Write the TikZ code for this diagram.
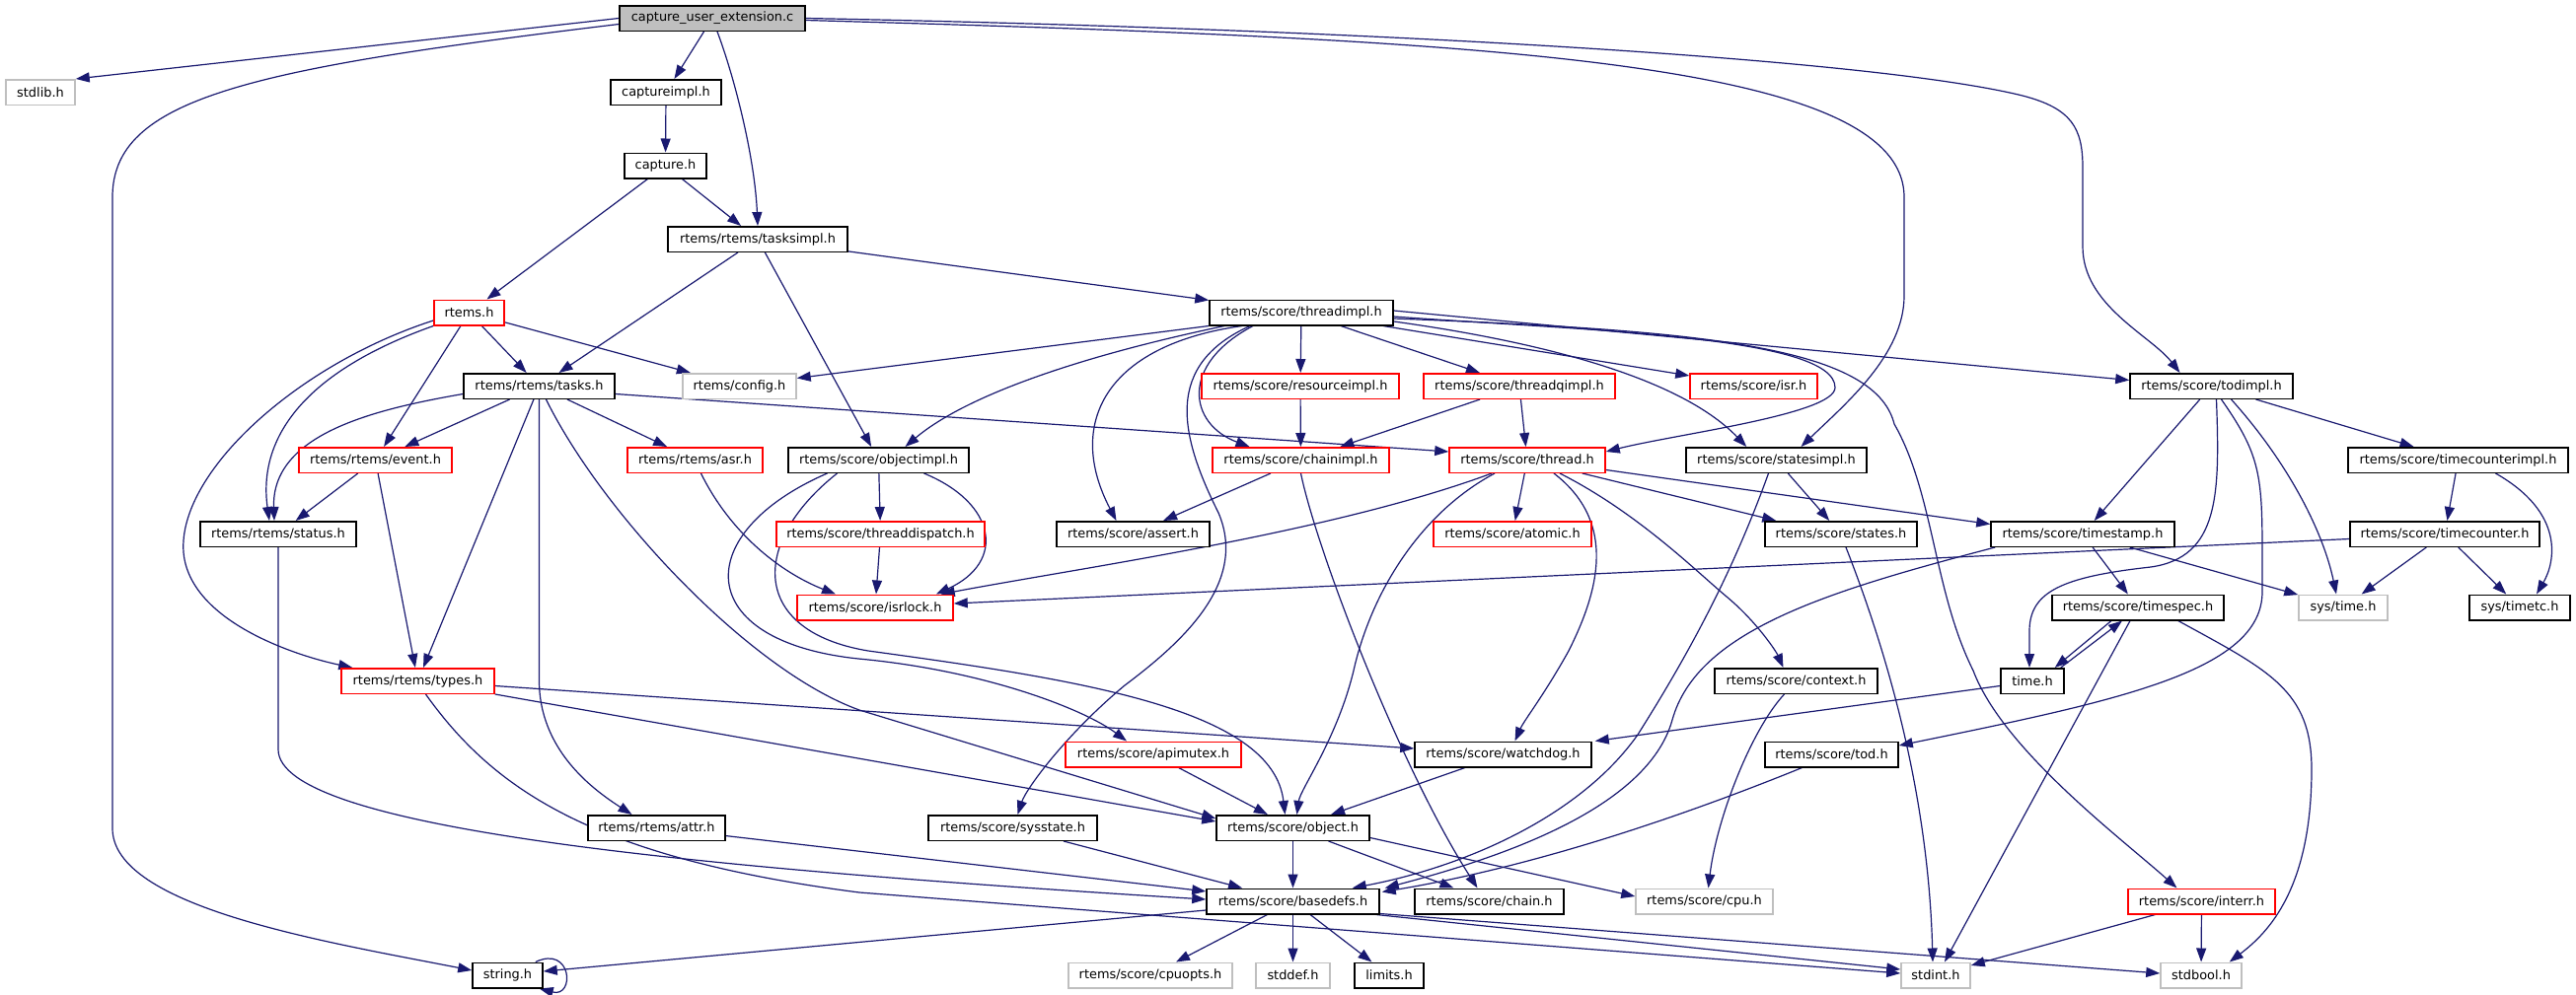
\documentclass[tikz,border=0pt]{standalone}
\usepackage{fontspec}
\setmainfont{DejaVu Sans}
\usetikzlibrary{arrows.meta,calc}
\definecolor{edgeblue}{HTML}{191970}
\definecolor{greyb}{HTML}{BFBFBF}
\definecolor{redb}{HTML}{FF0000}
\newcommand\nodefont{\fontsize{12.9}{14}\selectfont}
\pgfdeclarelayer{bg}
\pgfsetlayers{bg,main}
\tikzset{
  nb/.style={draw=black, fill=white, line width=1.5pt, minimum height=25.5pt, inner sep=0pt, font=\nodefont},
  nr/.style={nb, draw=redb},
  ng/.style={nb, draw=greyb},
  rootn/.style={nb, fill=greyb},
  dep/.style={draw=edgeblue, line width=1.2pt, -{Triangle[length=14pt,width=10pt]}}
}
\begin{document}
\begin{tikzpicture}[x=1pt,y=-1pt]
\begin{pgfonlayer}{bg}
\fill[white] (0,0) rectangle (2611,1009);
\end{pgfonlayer}
\useasboundingbox (0,0) rectangle (2611,1009);
% nodes
\node[rootn, minimum width=188pt] (cue) at (722,18.5) {capture\_user\_extension.c};
\node[ng, minimum width=70pt] (stdlib) at (41,93.5) {stdlib.h};
\node[nb, minimum width=112pt] (captureimpl) at (675,93.5) {captureimpl.h};
\node[nb, minimum width=83pt] (capture) at (674.5,168) {capture.h};
\node[nb, minimum width=182pt] (tasksimpl) at (768,242.5) {rtems/rtems/tasksimpl.h};
\node[nr, minimum width=71pt] (rtems) at (475.5,317) {rtems.h};
\node[nb, minimum width=186pt] (threadimpl) at (1319,317) {rtems/score/threadimpl.h};
\node[nb, minimum width=153pt] (tasks) at (546.5,391.5) {rtems/rtems/tasks.h};
\node[ng, minimum width=115pt] (config) at (749.5,391.5) {rtems/config.h};
\node[nr, minimum width=200pt] (resourceimpl) at (1318,391.5) {rtems/score/resourceimpl.h};
\node[nr, minimum width=194pt] (threadqimpl) at (1540,391.5) {rtems/score/threadqimpl.h};
\node[nr, minimum width=129pt] (isr) at (1777.5,391.5) {rtems/score/isr.h};
\node[nb, minimum width=165pt] (todimpl) at (2241.5,391.5) {rtems/score/todimpl.h};
\node[nr, minimum width=155pt] (event) at (380.5,466.5) {rtems/rtems/event.h};
\node[nr, minimum width=137pt] (asr) at (704.5,466.5) {rtems/rtems/asr.h};
\node[nb, minimum width=183pt] (objectimpl) at (890.5,466.5) {rtems/score/objectimpl.h};
\node[nr, minimum width=179pt] (chainimpl) at (1318.5,466.5) {rtems/score/chainimpl.h};
\node[nr, minimum width=158pt] (thread) at (1548,466.5) {rtems/score/thread.h};
\node[nb, minimum width=183pt] (statesimpl) at (1800.5,466.5) {rtems/score/statesimpl.h};
\node[nb, minimum width=223pt] (timecounterimpl) at (2491.5,466.5) {rtems/score/timecounterimpl.h};
\node[nb, minimum width=158pt] (status) at (282,541.5) {rtems/rtems/status.h};
\node[nr, minimum width=211pt] (threaddispatch) at (892.5,541.5) {rtems/score/threaddispatch.h};
\node[nb, minimum width=155pt] (assert) at (1148.5,541.5) {rtems/score/assert.h};
\node[nr, minimum width=160pt] (atomic) at (1533,541.5) {rtems/score/atomic.h};
\node[nb, minimum width=154pt] (states) at (1866,541.5) {rtems/score/states.h};
\node[nb, minimum width=186pt] (timestamp) at (2111,541.5) {rtems/score/timestamp.h};
\node[nb, minimum width=192pt] (timecounter) at (2478,541.5) {rtems/score/timecounter.h};
\node[nr, minimum width=158pt] (isrlock) at (887,616) {rtems/score/isrlock.h};
\node[nb, minimum width=174pt] (timespec) at (2167,616) {rtems/score/timespec.h};
\node[ng, minimum width=90pt] (systime) at (2375,616) {sys/time.h};
\node[nb, minimum width=102pt] (systimetc) at (2554,616) {sys/timetc.h};
\node[nr, minimum width=155pt] (types) at (423.5,690.5) {rtems/rtems/types.h};
\node[nb, minimum width=165pt] (context) at (1820.5,690.5) {rtems/score/context.h};
\node[nb, minimum width=64pt] (time) at (2060,690.5) {time.h};
\node[nr, minimum width=178pt] (apimutex) at (1169,765) {rtems/score/apimutex.h};
\node[nb, minimum width=179pt] (watchdog) at (1523.5,765) {rtems/score/watchdog.h};
\node[nb, minimum width=135pt] (tod) at (1856.5,765) {rtems/score/tod.h};
\node[nb, minimum width=139pt] (attr) at (665.5,839.5) {rtems/rtems/attr.h};
\node[nb, minimum width=171pt] (sysstate) at (1026.5,839.5) {rtems/score/sysstate.h};
\node[nb, minimum width=155pt] (object) at (1310.5,839.5) {rtems/score/object.h};
\node[nb, minimum width=175pt] (basedefs) at (1310.5,914) {rtems/score/basedefs.h};
\node[nb, minimum width=151pt] (chain) at (1509.5,914) {rtems/score/chain.h};
\node[ng, minimum width=139pt] (cpu) at (1727.5,914) {rtems/score/cpu.h};
\node[nr, minimum width=149pt] (interr) at (2231.5,914) {rtems/score/interr.h};
\node[nb, minimum width=71pt] (string) at (514.5,989) {string.h};
\node[ng, minimum width=166pt] (cpuopts) at (1166,989) {rtems/score/cpuopts.h};
\node[ng, minimum width=75pt] (stddef) at (1310.5,989) {stddef.h};
\node[nb, minimum width=70pt] (limits) at (1408,989) {limits.h};
\node[ng, minimum width=70pt] (stdint) at (1962,989) {stdint.h};
\node[ng, minimum width=82pt] (stdbool) at (2231,989) {stdbool.h};

\begin{pgfonlayer}{bg}
% capture_user_extension.c
\draw[dep] (cue.west) -- (stdlib.north east);
\draw[dep] ($(cue.west)+(0,6)$) .. controls (250,70) and (114,100) .. (114,200) -- (114,840) .. controls (114,920) and (330,955) .. ($(string.west)+(0,-5)$);
\draw[dep] (cue) -- (captureimpl);
\draw[dep] ($(cue.south)+(5,0)$) .. controls (745,80) and (765,160) .. (tasksimpl.north);
\draw[dep] ($(cue.east)+(0,2)$) .. controls (1500,40) and (1930,60) .. (1930,200) -- (1930,300) .. controls (1930,360) and (1870,410) .. ($(statesimpl.north)+(25,0)$);
\draw[dep] (cue.east) .. controls (1400,30) and (1900,60) .. (2050,97) .. controls (2100,110) and (2111,130) .. (2111,170) -- (2111,250) .. controls (2111,310) and (2180,340) .. ($(todimpl.north)+(-32,0)$);
% capture chain
\draw[dep] (captureimpl) -- (capture);
\draw[dep] (capture) -- (rtems);
\draw[dep] (capture) -- (tasksimpl);
\draw[dep] (tasksimpl) -- (tasks);
\draw[dep] (tasksimpl) -- (objectimpl);
\draw[dep] (tasksimpl) -- (threadimpl);
% rtems.h
\draw[dep] (rtems) -- (tasks);
\draw[dep] (rtems) -- (config);
\draw[dep] (rtems) -- (event);
\draw[dep] (rtems.south west) .. controls (300,380) and (262,450) .. ($(status.north)+(-9,0)$);
\draw[dep] ($(rtems.west)+(0,8)$) .. controls (300,370) and (180,480) .. (186,560) .. controls (192,630) and (300,665) .. ($(types.north west)+(12,0)$);
% tasks.h
\draw[dep] ($(tasks.west)+(0,8)$) .. controls (380,415) and (275,440) .. ($(status.north)+(-4,0)$);
\draw[dep] (tasks) -- (event);
\draw[dep] (tasks) -- (types);
\draw[dep] (tasks) -- (asr);
\draw[dep] (tasks.south) -- (546.5,690) .. controls (546.5,760) and (600,800) .. ($(attr.north)+(-25,0)$);
\draw[dep] ($(tasks.south)+(7,0)$) .. controls (610,520) and (760,680) .. (871,720) -- ($(object.north west)+(0,4)$);
\draw[dep] ($(tasks.east)+(0,8)$) -- ($(thread.north west)+(0,5)$);
% event, status, attr, types
\draw[dep] (event) -- (status);
\draw[dep] (event) -- (types);
\draw[dep] (status.south) -- (282,760) .. controls (282,840) and (700,880) .. ($(basedefs.west)+(0,-2)$);
\draw[dep] (attr) -- (basedefs);
\draw[dep] ($(types.east)+(0,5)$) -- ($(watchdog.west)+(0,-6)$);
\draw[dep] (types.south east) -- ($(object.north west)+(0,7)$);
\draw[dep] ($(types.south)+(8,0)$) .. controls (500,800) and (600,870) .. (871,905) -- ($(stdint.west)+(0,-2)$);
% asr, objectimpl, threaddispatch
\draw[dep] ($(asr.south)+(6,0)$) .. controls (740,540) and (790,580) .. ($(isrlock.north)+(-40,0)$);
\draw[dep] (objectimpl) -- (threaddispatch);
\draw[dep] ($(objectimpl.south)+(46,0)$) .. controls (1010,510) and (1020,570) .. ($(isrlock.north east)+(-18,0)$);
\draw[dep] ($(objectimpl.south)+(-52,0)$) .. controls (700,540) and (700,650) .. (870,668) .. controls (1000,680) and (1100,720) .. ($(apimutex.north)+(-27,0)$);
\draw[dep] ($(objectimpl.south)+(-42,0)$) .. controls (760,550) and (760,640) .. (880,660) .. controls (1100,690) and (1290,720) .. ($(object.north)+(-8,0)$);
\draw[dep] (threaddispatch) -- (isrlock);
% threadimpl
\draw[dep] (threadimpl.south west) -- ($(config.east)+(0,-8)$);
\draw[dep] ($(threadimpl.south west)+(16,0)$) .. controls (1100,360) and (980,400) .. ($(objectimpl.north)+(27,0)$);
\draw[dep] ($(threadimpl.south)+(-60,0)$) .. controls (1120,350) and (1080,430) .. ($(assert.north)+(-17,0)$);
\draw[dep] ($(threadimpl.south)+(-52,0)$) .. controls (1180,370) and (1195,440) .. (1235,520) .. controls (1265,590) and (1200,650) .. (1140,695) .. controls (1080,745) and (1040,800) .. ($(sysstate.north)+(5,0)$);
\draw[dep] ($(threadimpl.south)+(-49,0)$) .. controls (1195,370) and (1205,430) .. ($(chainimpl.north)+(-52,0)$);
\draw[dep] (threadimpl) -- (resourceimpl);
\draw[dep] (threadimpl) -- (threadqimpl);
\draw[dep] (threadimpl) -- (isr);
\draw[dep] ($(threadimpl.east)+(0,4)$) .. controls (1600,335) and (1860,340) .. (1860,393) .. controls (1860,420) and (1700,440) .. ($(thread.north east)+(0,5)$);
\draw[dep] ($(threadimpl.east)+(0,9)$) .. controls (1550,345) and (1700,380) .. ($(statesimpl.north west)+(62,0)$);
\draw[dep] ($(threadimpl.east)+(0,-2)$) -- ($(todimpl.west)+(0,-6)$);
\draw[dep] ($(threadimpl.east)+(0,6)$) .. controls (1720,335) and (1900,350) .. (1920,430) .. controls (1960,500) and (1960,600) .. (2000,680) .. controls (2030,760) and (2150,850) .. ($(interr.north)+(-25,0)$);
% resourceimpl, threadqimpl, chainimpl
\draw[dep] (resourceimpl) -- (chainimpl);
\draw[dep] (threadqimpl) -- (chainimpl);
\draw[dep] (threadqimpl) -- (thread);
\draw[dep] (chainimpl) -- (assert);
\draw[dep] (chainimpl.south) .. controls (1335,560) and (1420,780) .. ($(chain.north)+(-12,0)$);
% thread.h
\draw[dep] ($(thread.south)+(-36,0)$) .. controls (1350,540) and (1100,575) .. ($(isrlock.north east)+(-13,0)$);
\draw[dep] (thread) -- (atomic);
\draw[dep] ($(thread.south)+(-33,0)$) .. controls (1440,520) and (1390,600) .. (1372,680) .. controls (1355,750) and (1318,800) .. ($(object.north)+(4,0)$);
\draw[dep] ($(thread.south)+(27,0)$) .. controls (1640,530) and (1620,600) .. (1590,660) .. controls (1565,705) and (1545,730) .. ($(watchdog.north)+(12,0)$);
\draw[dep] ($(thread.south)+(33,0)$) .. controls (1660,520) and (1720,580) .. (1750,605) .. controls (1780,630) and (1800,660) .. ($(context.north)+(-13,0)$);
\draw[dep] ($(thread.south east)+(-24,0)$) -- ($(states.north west)+(12,0)$);
\draw[dep] ($(thread.east)+(0,10)$) -- ($(timestamp.west)+(0,-10)$);
% statesimpl, states
\draw[dep] (statesimpl) -- (states);
\draw[dep] ($(statesimpl.south)+(-8,0)$) .. controls (1760,570) and (1720,650) .. (1660,745) .. controls (1600,830) and (1480,880) .. ($(basedefs.north east)+(-28,0)$);
\draw[dep] ($(states.south)+(5,0)$) .. controls (1920,680) and (1955,820) .. ($(stdint.north)+(-3,0)$);
% todimpl
\draw[dep] (todimpl) -- (timestamp);
\draw[dep] ($(todimpl.south)+(5,0)$) .. controls (2250,500) and (2250,565) .. (2180,575) .. controls (2090,585) and (2057,600) .. (2057,640) -- ($(time.north)+(-3,0)$);
\draw[dep] ($(todimpl.south)+(10,0)$) .. controls (2290,460) and (2293,480) .. (2293,560) -- (2293,600) .. controls (2293,680) and (2150,710) .. ($(tod.east)+(0,-9)$);
\draw[dep] ($(todimpl.south)+(20,0)$) .. controls (2320,470) and (2355,540) .. ($(systime.north)+(-7,0)$);
\draw[dep] (todimpl) -- (timecounterimpl);
% timecounter
\draw[dep] (timecounterimpl) -- (timecounter);
\draw[dep] ($(timecounterimpl.south)+(38,0)$) .. controls (2600,520) and (2590,570) .. ($(systimetc.north)+(17,0)$);
\draw[dep] ($(timecounter.west)+(0,5)$) -- ($(isrlock.east)+(0,-4)$);
\draw[dep] (timecounter) -- (systime);
\draw[dep] (timecounter) -- (systimetc);
% timestamp
\draw[dep] (timestamp) -- (timespec);
\draw[dep] (timestamp) -- (systime);
\draw[dep] ($(timestamp.south west)+(5,0)$) .. controls (1850,600) and (1720,640) .. (1695,730) .. controls (1670,820) and (1520,870) .. ($(basedefs.north east)+(5,0)$);
% timespec, time
\draw[dep] ($(timespec.south)+(-27,0)$) -- ($(time.north east)+(-10,0)$);
\draw[dep] ($(time.north east)+(-4,0)$) -- ($(timespec.south)+(-16,0)$);
\draw[dep] ($(timespec.south)+(-8,0)$) -- ($(stdint.north)+(9,0)$);
\draw[dep] ($(timespec.south east)+(-47,0)$) .. controls (2300,680) and (2343,700) .. (2343,780) .. controls (2343,900) and (2300,945) .. ($(stdbool.north east)+(-13,0)$);
\draw[dep] ($(time.west)+(0,5)$) -- ($(watchdog.north east)+(3,0)$);
% lower part
\draw[dep] (watchdog) -- (object);
\draw[dep] (apimutex) -- (object);
\draw[dep] (sysstate) -- (basedefs);
\draw[dep] (object) -- (basedefs);
\draw[dep] (object) -- (chain);
\draw[dep] ($(object.east)+(0,10)$) -- ($(cpu.west)+(0,-5)$);
\draw[dep] ($(context.south)+(-12,0)$) .. controls (1775,740) and (1740,830) .. ($(cpu.north)+(4,0)$);
\draw[dep] ($(tod.south)+(-30,0)$) .. controls (1700,830) and (1550,880) .. ($(basedefs.north east)+(2,4)$);
\draw[dep] ($(interr.south)+(-47,0)$) -- ($(stdint.east)+(0,-10)$);
\draw[dep] (interr) -- (stdbool);
% basedefs
\draw[dep] ($(basedefs.west)+(0,9)$) -- ($(string.east)+(0,-4)$);
\draw[dep] (basedefs) -- (cpuopts);
\draw[dep] (basedefs) -- (stddef);
\draw[dep] (basedefs) -- (limits);
\draw[dep] ($(basedefs.south east)+(-4,0)$) -- ($(stdint.west)+(0,-6)$);
\draw[dep] ($(basedefs.south east)+(0,-1)$) -- ($(stdbool.west)+(0,-2)$);
\draw[dep] ($(string.north east)+(-8,0)$) .. controls (580,958) and (583,1012) .. ($(string.south east)+(-4,0)$);
\end{pgfonlayer}
\end{tikzpicture}
\end{document}
